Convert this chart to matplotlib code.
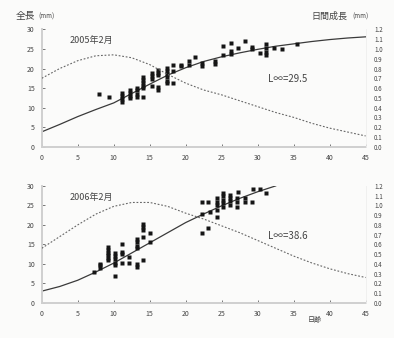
import numpy as np
import matplotlib
matplotlib.use("Agg")
import matplotlib.pyplot as plt

plt.rcParams['font.family'] = ['Noto Sans CJK JP', 'DejaVu Sans']

# fitted curves, every 2.5 days
days_fit = [0, 2.5, 5, 7.5, 10, 12.5, 15, 17.5, 20, 22.5, 25, 27.5, 30,
            32.5, 35, 37.5, 40, 42.5, 45]
len_2005 = [3.8, 5.7, 7.7, 9.5, 11.2, 13.6, 16.0, 18.3, 20.2, 21.8, 23.0,
            24.0, 24.9, 25.7, 26.3, 26.9, 27.4, 27.8, 28.1]
rate_2005 = [0.70, 0.80, 0.88, 0.93, 0.94, 0.91, 0.84, 0.74, 0.65, 0.58,
             0.53, 0.47, 0.41, 0.35, 0.30, 0.24, 0.19, 0.15, 0.11]
days_fit_2006 = [0, 2.5, 5, 7.5, 10, 12.5, 15, 17.5, 20, 22.5, 25, 27.5,
                 30, 32.5]
len_2006 = [3.0, 4.2, 5.8, 7.9, 10.2, 12.8, 15.4, 18.0, 20.6, 22.8, 24.9,
            26.8, 28.5, 30.0]
rate_2006 = [0.56, 0.68, 0.80, 0.91, 0.99, 1.03, 1.03, 0.99, 0.92, 0.86,
             0.79, 0.72, 0.64, 0.56, 0.48, 0.41, 0.35, 0.30, 0.26]

# measured fish
age_2005 = [8.0, 9.3,
            11.1, 11.1, 11.1, 11.1, 12.2, 12.2, 12.2, 12.2,
            13.2, 13.2, 13.2, 13.2, 14.1, 14.1, 14.1, 14.1, 14.1, 14.1,
            15.3, 15.3, 15.3, 15.3, 16.2, 16.2, 16.2, 16.2, 16.2,
            17.4, 17.4, 17.4, 17.4, 17.4, 17.4, 18.2, 18.2, 18.2,
            19.3, 19.3, 20.4, 20.4, 21.3, 22.2, 22.2, 24.1, 24.1,
            25.2, 25.2, 26.3, 26.3, 26.3, 27.3, 28.2, 29.2, 29.2, 30.3,
            31.2, 31.2, 31.2, 31.2, 32.2, 33.4, 35.4]
tl_2005 = [13.5, 12.6,
           13.7, 13.0, 12.2, 11.5, 14.6, 13.8, 13.0, 12.4,
           15.1, 14.4, 13.6, 12.6, 17.9, 17.0, 16.2, 15.4, 14.9, 12.7,
           18.8, 18.0, 17.2, 15.5, 19.6, 18.9, 18.3, 15.3, 14.4,
           20.1, 19.3, 18.5, 17.7, 16.9, 16.2, 21.0, 19.4, 16.2,
           20.6, 21.0, 21.8, 21.0, 23.0, 21.3, 20.6, 21.9, 21.2,
           23.5, 25.7, 26.4, 24.6, 23.8, 25.2, 27.1, 25.6, 24.9, 23.9,
           26.3, 25.2, 24.2, 23.5, 25.2, 25.0, 26.3]

age_2006 = [7.2, 8.1, 8.1, 8.1,
            9.25, 9.25, 9.25, 9.25, 9.25, 9.25,
            10.2, 10.2, 10.2, 10.2, 10.2, 10.2,
            11.1, 11.1, 11.1, 11.1, 12.1, 12.1,
            13.2, 13.2, 13.2, 13.2, 13.2, 13.2,
            14.1, 14.1, 14.1, 14.1, 14.1, 15.1, 15.1,
            22.2, 22.2, 22.2, 23.1, 23.1, 23.4,
            24.3, 24.3, 24.3, 24.3, 24.3, 25.2, 25.2, 25.2, 25.2, 25.2,
            26.2, 26.2, 26.2, 26.2, 27.1, 27.1, 27.1, 27.3,
            28.2, 28.2, 29.2, 29.4, 30.3, 31.2]
tl_2006 = [7.9, 9.0, 9.6, 10.0,
           14.3, 13.6, 12.9, 12.2, 11.5, 10.9,
           12.8, 12.0, 11.2, 10.3, 9.7, 7.0,
           15.2, 13.0, 12.6, 10.2, 11.8, 10.2,
           16.3, 15.5, 14.7, 14.0, 10.0, 9.3,
           20.1, 19.4, 18.7, 16.9, 11.0, 17.8, 15.7,
           25.9, 22.9, 17.8, 25.9, 19.1, 23.3,
           26.8, 25.9, 25.0, 23.8, 22.1, 28.1, 27.3, 26.4, 25.5, 24.5,
           27.6, 26.8, 26.0, 25.1, 26.8, 25.9, 24.6, 28.4,
           26.8, 25.9, 25.9, 29.3, 29.3, 28.2]

x_ticks = [0, 5, 10, 15, 20, 25, 30, 35, 40, 45]
y_ticks = [0, 5, 10, 15, 20, 25, 30]
r_ticks = [0.0, 0.1, 0.2, 0.3, 0.4, 0.5, 0.6, 0.7, 0.8, 0.9, 1.0, 1.1, 1.2]

txt = '#444444'
fig = plt.figure(figsize=(3.94, 3.38), dpi=100)
fig.patch.set_facecolor('#fbfbfa')


def panel(rect, age, tl, dfit, lfit, rate, year, linf):
    ax = fig.add_axes(rect)
    ax.set_facecolor('none')
    ax.plot(dfit, lfit, color='#3a3a3a', lw=0.9)
    ax.plot(age, tl, 's', color='#151515', ms=2.2, mec='none')
    ax.set_xlim(0, 45)
    ax.set_ylim(0, 30)
    ax.set_xticks(x_ticks)
    ax.set_yticks(y_ticks)
    ax.tick_params(labelsize=5, colors=txt, length=2, width=0.5,
                   direction='in', pad=5)
    for s in ['top', 'right']:
        ax.spines[s].set_visible(False)
    for s in ['left', 'bottom']:
        ax.spines[s].set_color('#cfcfcf')
        ax.spines[s].set_linewidth(1.4)
    ax.text(3.8, 26.5, year, fontsize=6.5, color=txt)
    ax.text(31.5, 16.5, linf, fontsize=7, color=txt)

    ax2 = ax.twinx()
    ax2.plot(days_fit, rate, color='#666666', lw=0.8, ls=(0, (1.6, 1.6)))
    ax2.set_ylim(0, 1.2)
    ax2.set_yticks(r_ticks)
    ax2.set_yticklabels(['%.1f' % v for v in r_ticks])
    ax2.tick_params(labelsize=4.5, colors=txt, length=0, pad=6)
    for s in ['top', 'left', 'bottom']:
        ax2.spines[s].set_visible(False)
    ax2.spines['right'].set_color('#eeeeee')
    ax2.spines['right'].set_linewidth(0.6)
    return ax


ax_top = panel([0.106, 0.566, 0.822, 0.347], age_2005, tl_2005,
               days_fit, len_2005, rate_2005, '2005年2月', 'L∞=29.5')
ax_bot = panel([0.106, 0.104, 0.822, 0.346], age_2006, tl_2006,
               days_fit_2006, len_2006, rate_2006, '2006年2月', 'L∞=38.6')

fig.text(0.04, 0.952, '全長', fontsize=7, color=txt, va='center')
fig.text(0.098, 0.950, '(mm)', fontsize=4.5, color=txt, va='center')
fig.text(0.79, 0.952, '日間成長', fontsize=6.5, color=txt, va='center')
fig.text(0.895, 0.950, '(mm)', fontsize=4.5, color=txt, va='center')
fig.text(0.80, 0.046, '日齢', fontsize=5, color=txt, ha='center')

fig.savefig('out.png', dpi=100, facecolor=fig.get_facecolor())
